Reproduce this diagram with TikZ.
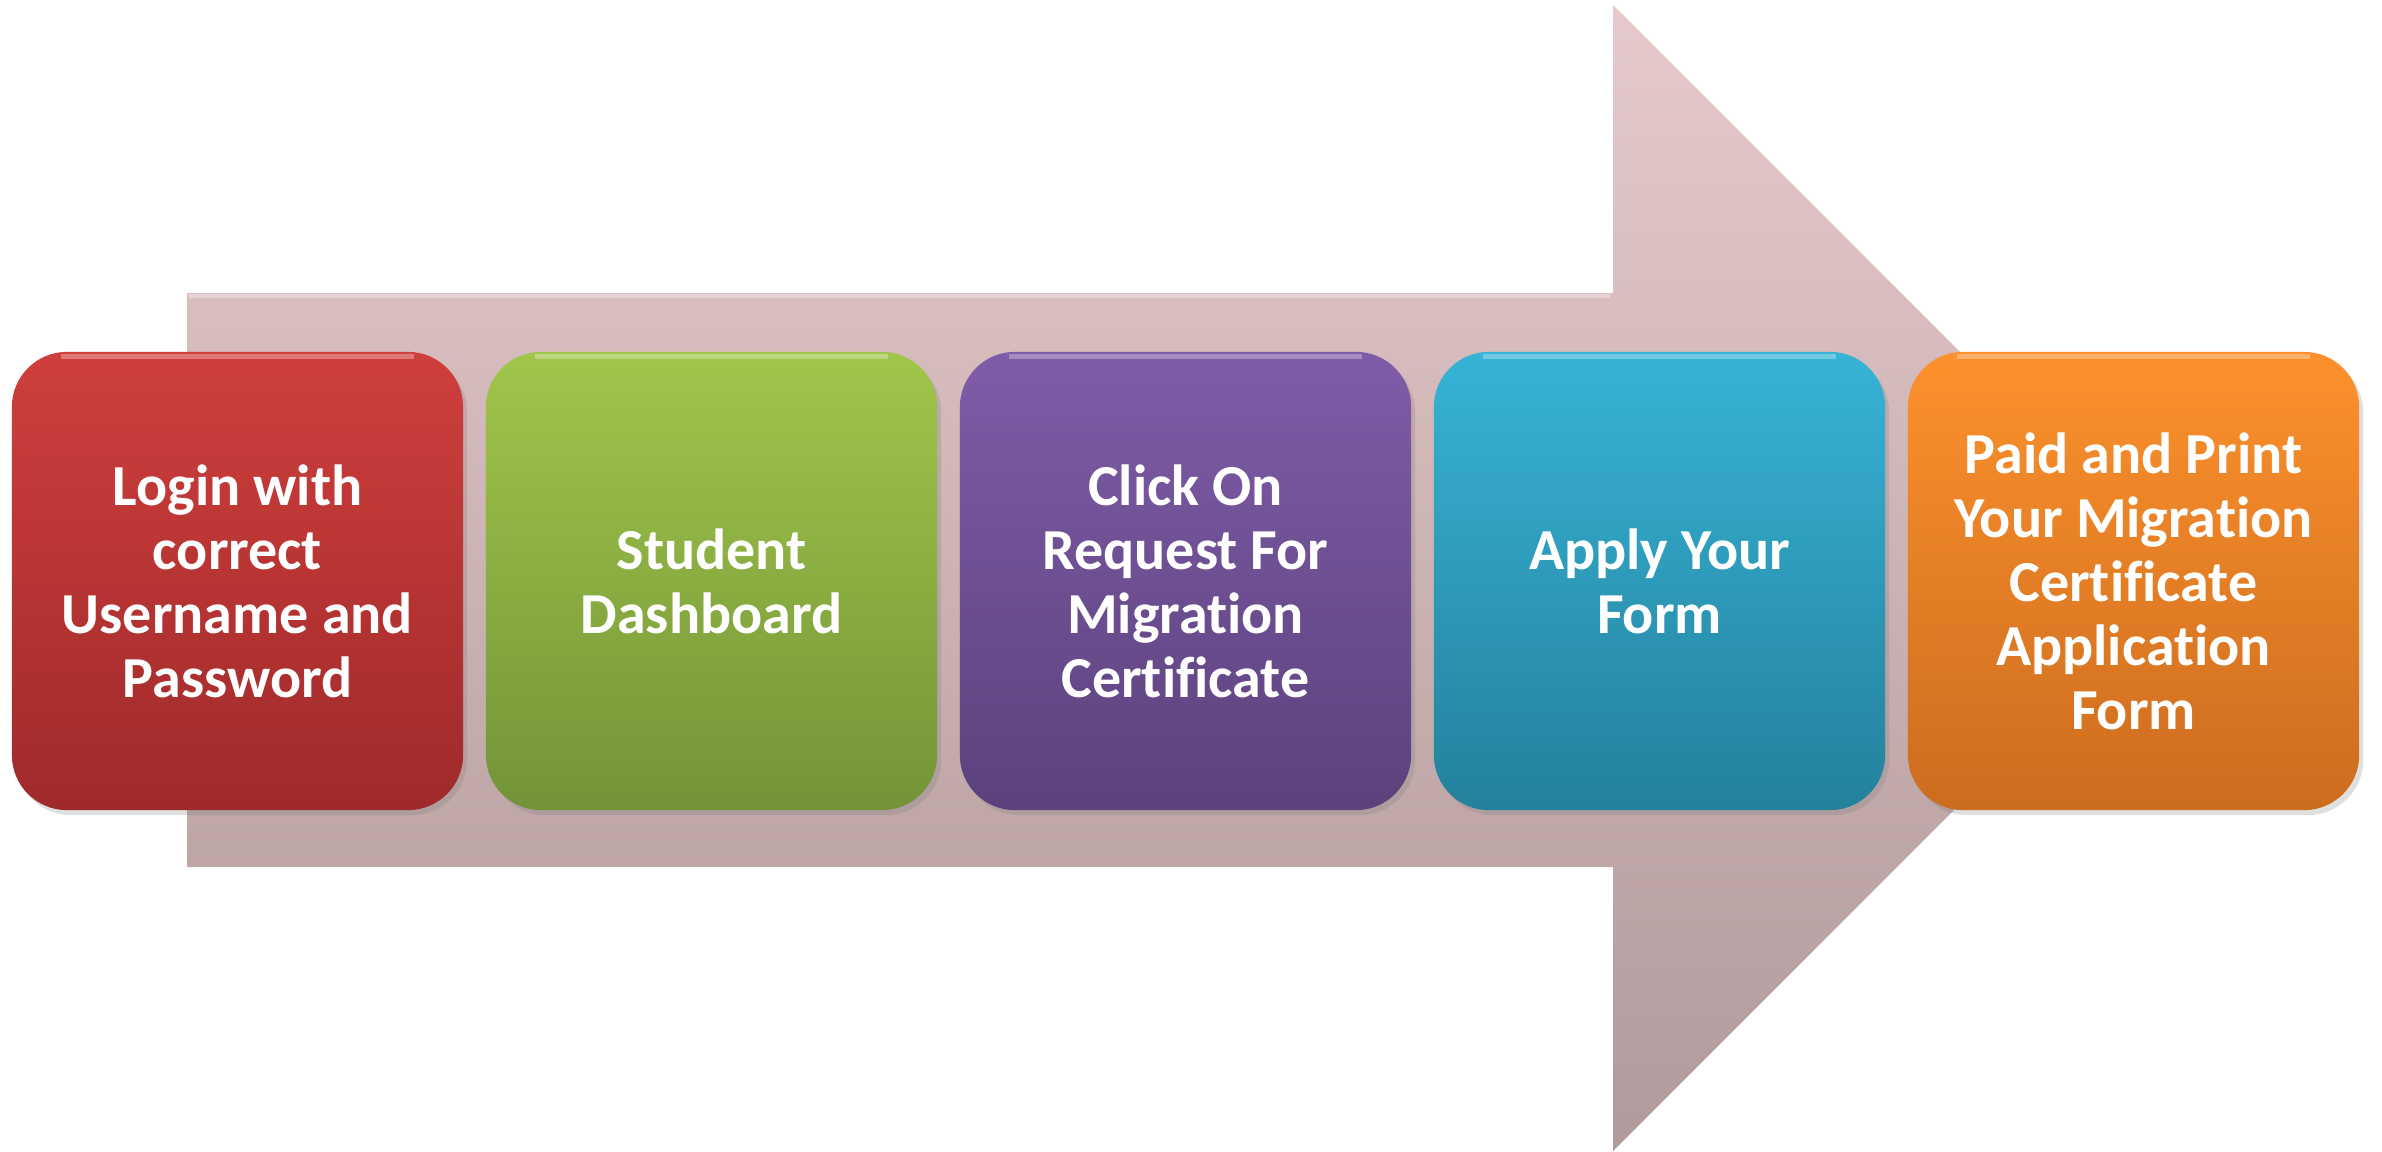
\documentclass[tikz,border=0pt]{standalone}
\usepackage{fontspec}
\setmainfont[Ligatures=NoCommon]{Carlito}
\usetikzlibrary{shadows}
\definecolor{arrtop}{HTML}{E6CACB}
\definecolor{arrbot}{HTML}{B09A9B}
\definecolor{redT}{HTML}{CF3F3C}
\definecolor{redB}{HTML}{9F2A2B}
\definecolor{grnT}{HTML}{A0C64B}
\definecolor{grnB}{HTML}{739437}
\definecolor{purT}{HTML}{7F5CA8}
\definecolor{purB}{HTML}{5B427C}
\definecolor{teaT}{HTML}{37B3D6}
\definecolor{teaB}{HTML}{24819C}
\definecolor{orgT}{HTML}{FC912D}
\definecolor{orgB}{HTML}{CC6C1E}
\tikzset{
  stepbox/.style={rounded corners=0.55cm, minimum width=4.51cm, minimum height=4.58cm,
    inner sep=0pt, align=center, text=white,
    font=\bfseries\fontsize{16.5pt}{18.2pt}\selectfont,
    drop shadow={opacity=0.25, shadow xshift=0.04cm, shadow yshift=-0.05cm}},
  gloss/.style={draw=white, draw opacity=0.3, line width=1.5pt}
}
\begin{document}
\begin{tikzpicture}[x=0.01cm,y=-0.01cm]
\useasboundingbox (0,0) rectangle (2382,1151);
% big arrow
\shade[top color=arrtop, bottom color=arrbot]
  (187,293) -- (1613,293) -- (1613,5) -- (2186,578) -- (1613,1151) -- (1613,867) -- (187,867) -- cycle;
\draw[white, opacity=0.35, line width=1pt] (189,296) -- (1610,296);
% step boxes
\node[stepbox, top color=redT, bottom color=redB] (b1) at (237.5,581) {Login with\\correct\\Username and\\Password};
\node[stepbox, top color=grnT, bottom color=grnB] (b2) at (711.5,581) {Student\\Dashboard};
\node[stepbox, top color=purT, bottom color=purB] (b3) at (1185.5,581) {Click On\\Request For\\Migration\\Certificate};
\node[stepbox, top color=teaT, bottom color=teaB] (b4) at (1659.5,581) {Apply Your\\Form};
\node[stepbox, top color=orgT, bottom color=orgB] (b5) at (2133.5,581) {Paid and Print\\Your Migration\\Certificate\\Application\\Form};
% glossy top highlights
\foreach \n in {b1,b2,b3,b4,b5}{
  \draw[gloss] ([xshift=0.5cm,yshift=-0.05cm]\n.north west) -- ([xshift=-0.5cm,yshift=-0.05cm]\n.north east);
}
\end{tikzpicture}
\end{document}
